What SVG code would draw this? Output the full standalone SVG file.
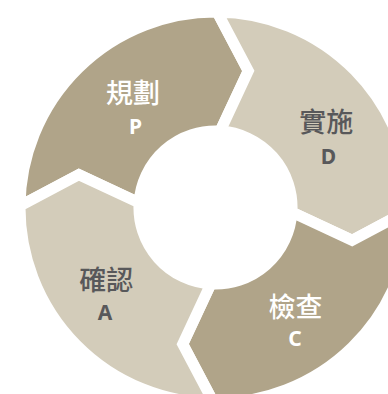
<svg xmlns="http://www.w3.org/2000/svg" width="388" height="394" viewBox="0 0 388 394">
<style>
.seg{stroke:#ffffff;stroke-width:11;stroke-linejoin:miter;stroke-miterlimit:10}
.dark{fill:#B0A489}
.light{fill:#D3CCBA}
.cjk{font-family:"Noto Sans CJK TC","Noto Sans CJK SC",sans-serif;font-size:27px;font-weight:500;text-anchor:middle}
.lat{font-family:"Noto Sans","Open Sans",sans-serif;font-size:21px;font-weight:700;text-anchor:middle}
.w{fill:#ffffff}
.g{fill:#58585A}
</style>
<rect width="388" height="394" fill="#ffffff"/>
<g id="plan">
<path class="seg dark" d="M20,205.8 A195.5,195.5 0 0 1 217.2,12 L248.3,70.9 L220.16,131.1 A76.5,76.5 0 0 0 139.1,202.84 L78.9,174.7 Z"/>
<text class="cjk w" x="133" y="102.5">規劃</text>
<text class="lat w" x="135.5" y="134">P</text>
</g>
<g id="do">
<path class="seg light" d="M217.2,12 A195.5,195.5 0 0 1 411,209.2 L352.1,240.3 L291.9,212.16 A76.5,76.5 0 0 0 220.16,131.1 L248.3,70.9 Z"/>
<text class="cjk g" x="326.3" y="132">實施</text>
<text class="lat g" x="328.5" y="164">D</text>
</g>
<g id="check">
<path class="seg dark" d="M411,209.2 A195.5,195.5 0 0 1 213.8,403 L182.7,344.1 L210.84,283.9 A76.5,76.5 0 0 0 291.9,212.16 L352.1,240.3 Z"/>
<text class="cjk w" x="295.5" y="316.5">檢查</text>
<text class="lat w" x="295" y="345.5">C</text>
</g>
<g id="act">
<path class="seg light" d="M213.8,403 A195.5,195.5 0 0 1 20,205.8 L78.9,174.7 L139.1,202.84 A76.5,76.5 0 0 0 210.84,283.9 L182.7,344.1 Z"/>
<text class="cjk g" x="106.3" y="289.8">確認</text>
<text class="lat g" x="105" y="320">A</text>
</g>
<g id="connectors"></g>
</svg>
